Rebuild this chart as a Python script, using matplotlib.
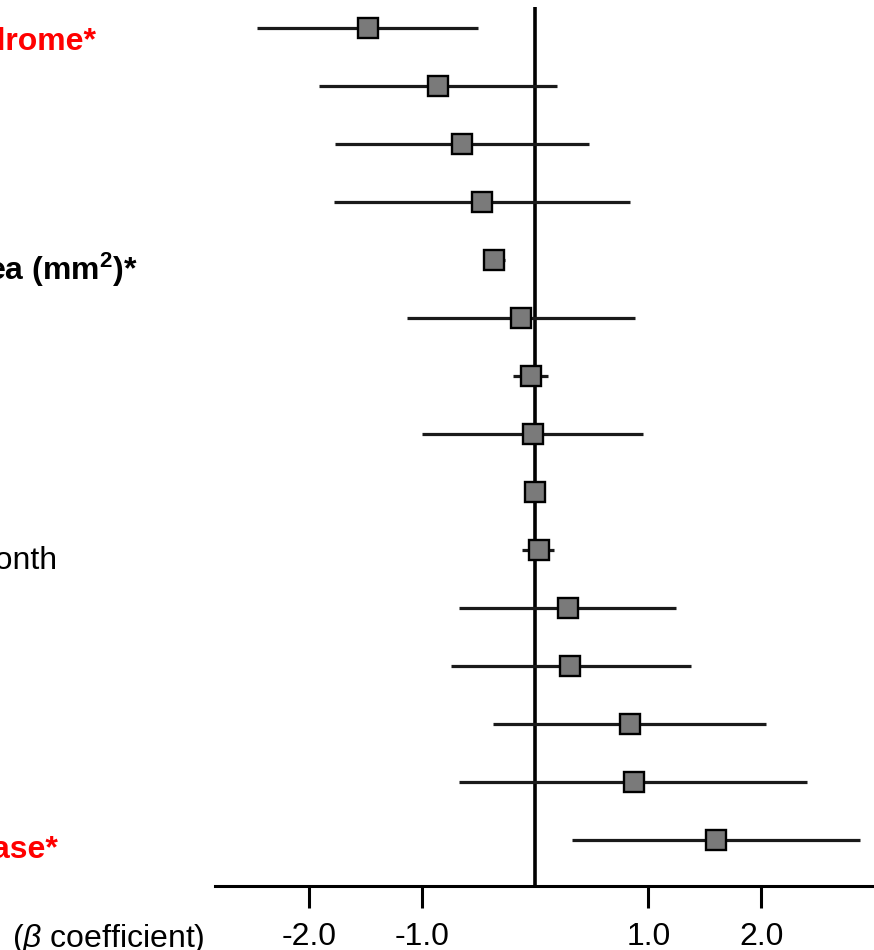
import matplotlib
matplotlib.use("Agg")
import numpy as np
from matplotlib import pyplot as plt

plt.rcParams['font.family'] = ['Liberation Sans', 'DejaVu Sans']
plt.rcParams['mathtext.fontset'] = 'custom'
plt.rcParams['mathtext.rm'] = 'Liberation Sans'
plt.rcParams['mathtext.it'] = 'Liberation Sans:italic'
plt.rcParams['mathtext.bf'] = 'Liberation Sans:bold'

# beta coefficients with 95% CI, top row first
beta = [-1.48, -0.86, -0.65, -0.47, -0.37, -0.13, -0.04, -0.02, 0.00, 0.03,
        0.29, 0.31, 0.84, 0.87, 1.60]
ci_low = [-2.46, -1.92, -1.77, -1.78, -0.45, -1.14, -0.20, -1.00, -0.05, -0.12,
          -0.68, -0.75, -0.38, -0.68, 0.32]
ci_high = [-0.51, 0.19, 0.47, 0.84, -0.27, 0.88, 0.11, 0.95, 0.05, 0.16,
           1.24, 1.38, 2.04, 2.40, 2.87]

# only the long labels reach into the visible area
labels = ['Metabolic Syndrome*', '', '', '', r'Visceral Fat Area (mm$^{\mathbf{2}}$)*',
          '', '', '', '', 'Physical activity per month', '', '', '', '',
          'Cardiovascular Disease*']
label_colors = ['red', 'k', 'k', 'k', 'k', 'k', 'k', 'k', 'k', 'k',
                'k', 'k', 'k', 'k', 'red']
label_weights = ['bold', 'normal', 'normal', 'normal', 'bold', 'normal', 'normal',
                 'normal', 'normal', 'normal', 'normal', 'normal', 'normal',
                 'normal', 'bold']
label_right = [96, 0, 0, 0, 138, 0, 0, 0, 0, 57, 0, 0, 0, 0, 58]

xticks = [-2.0, -1.0, 1.0, 2.0]
xlabel = r'($\beta$ coefficient)'

W, H = 874, 950
fig = plt.figure(figsize=(W / 100, H / 100), dpi=100)
ax = fig.add_axes([215 / W, (H - 886) / H, 1 - 215 / W, (886 - 7) / H])

rows = np.arange(len(beta))
ax.hlines(rows, ci_low, ci_high, color='#1a1a1a', lw=2.3, zorder=2)
ax.plot(beta, rows, ls='none', marker='s', ms=14, mfc='#7a7a7a', mec='k',
        mew=1.7, zorder=3)
ax.axvline(0, color='k', lw=2.6, zorder=1)

ax.set_xlim(-2.836, 2.996)
ax.set_ylim(14 + 46 / 58, -21 / 58)

ax.set_xticks(xticks)
ax.set_xticklabels([f'{t:.1f}' for t in xticks])
ax.tick_params(axis='x', direction='out', length=16, width=2.2, pad=10,
               labelsize=23)
ax.set_yticks([])
for s in ['left', 'right', 'top']:
    ax.spines[s].set_visible(False)
ax.spines['bottom'].set_linewidth(2.2)

# row labels, right edge given in figure pixels; labels sit a bit below the rows
for i, lab in enumerate(labels):
    if not lab:
        continue
    ax.annotate(lab, xy=(label_right[i] / W, rows[i]),
                xycoords=('figure fraction', 'data'),
                xytext=(0, -(15.5 - 0.2 * i)), textcoords='offset points',
                ha='right', va='baseline', fontsize=23,
                color=label_colors[i], fontweight=label_weights[i])

fig.text(205 / W, (H - 947) / H, xlabel, ha='right', va='baseline', fontsize=23)

fig.savefig('out.png', dpi=100, facecolor='w')
